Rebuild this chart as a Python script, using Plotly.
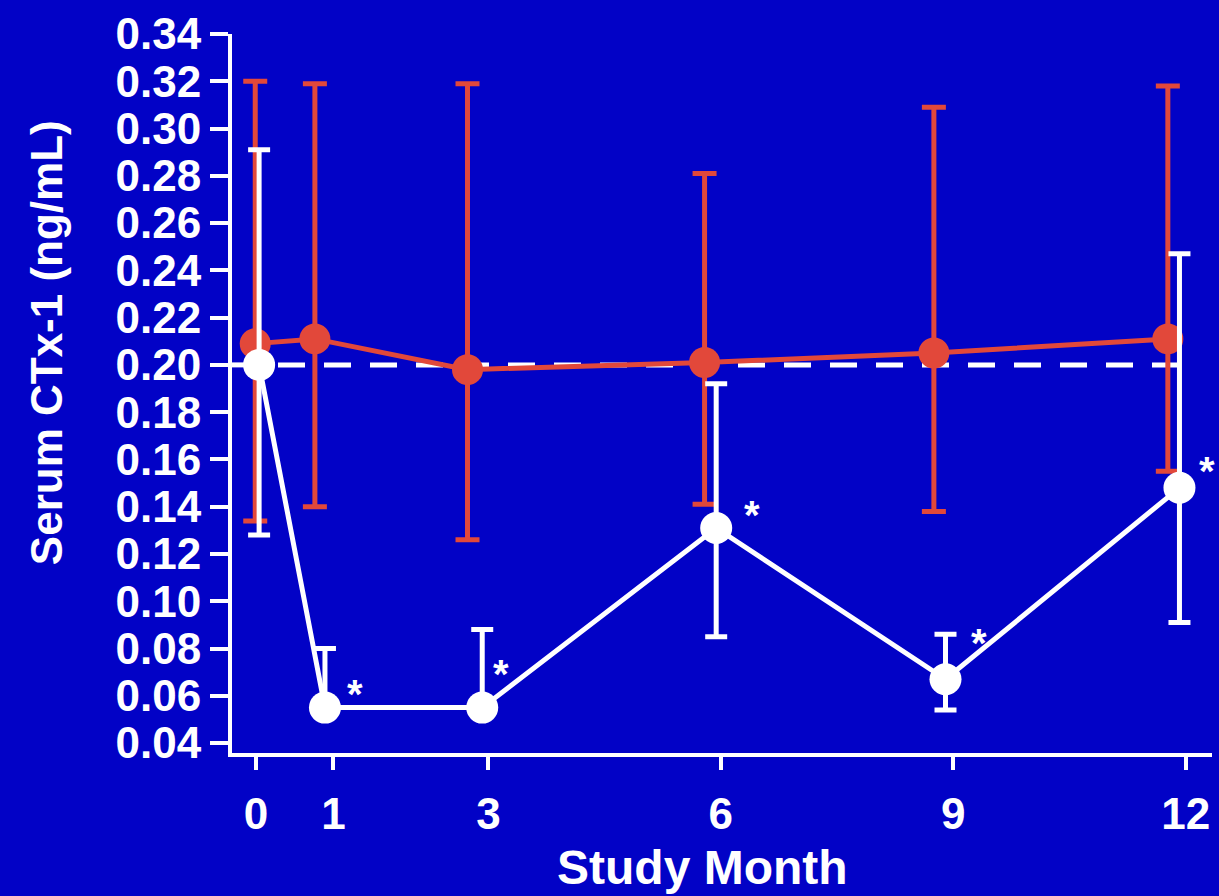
import plotly.graph_objects as go

# ---- data ----
months = [0, 1, 3, 6, 9, 12]
tick_labels = ["0", "1", "3", "6", "9", "12"]

red_mean = [0.209, 0.211, 0.198, 0.201, 0.205, 0.211]
red_upper = [0.320, 0.319, 0.319, 0.281, 0.309, 0.318]
red_lower = [0.134, 0.140, 0.126, 0.141, 0.138, 0.155]

white_mean = [0.200, 0.055, 0.055, 0.131, 0.067, 0.148]
white_upper = [0.291, 0.080, 0.088, 0.192, 0.086, 0.247]
white_lower = [0.128, 0.055, 0.055, 0.085, 0.054, 0.091]

significant = ["", "*", "*", "*", "*", "*"]
reference_level = 0.20

y_ticks = [0.04, 0.06, 0.08, 0.10, 0.12, 0.14, 0.16, 0.18, 0.20,
           0.22, 0.24, 0.26, 0.28, 0.30, 0.32, 0.34]

x_title = "Study Month"
y_title = "Serum CTx-1 (ng/mL)"

# ---- styling / layout constants ----
BG = "#0202C6"
RED = "#E2483A"
WHITE = "#FFFFFF"
FONT = "Liberation Sans, Arial, sans-serif"
red_dodge = [-0.01, -0.24, -0.27, -0.21, -0.25, -0.23]
white_dodge = [0.04, -0.11, -0.08, -0.06, -0.10, -0.08]
x_range = [-0.31, 12.34]
y_range = [0.0358, 0.3400]

red_x = [m + d for m, d in zip(months, red_dodge)]
white_x = [m + d for m, d in zip(months, white_dodge)]

fig = go.Figure()

# dashed reference line (drawn first so it sits under the series)
fig.add_trace(go.Scatter(
    x=[x_range[0], 12.03], y=[reference_level, reference_level],
    mode="lines", line=dict(color=WHITE, width=5, dash="27px,19px"),
    hoverinfo="skip", showlegend=False))

fig.add_trace(go.Scatter(
    x=red_x, y=red_mean, mode="lines+markers",
    line=dict(color=RED, width=5),
    marker=dict(color=RED, size=31),
    error_y=dict(type="data", symmetric=False,
                 array=[u - m for u, m in zip(red_upper, red_mean)],
                 arrayminus=[m - l for m, l in zip(red_mean, red_lower)],
                 color=RED, thickness=5, width=12),
    showlegend=False))

fig.add_trace(go.Scatter(
    x=white_x, y=white_mean, mode="lines+markers",
    line=dict(color=WHITE, width=5),
    marker=dict(color=WHITE, size=32),
    error_y=dict(type="data", symmetric=False,
                 array=[u - m for u, m in zip(white_upper, white_mean)],
                 arrayminus=[m - l for m, l in zip(white_mean, white_lower)],
                 color=WHITE, thickness=5, width=11),
    showlegend=False))

# significance asterisks
star_shift = [(0, 0), (30, 14), (19, 34), (36, 13), (33, 36), (28, 17)]
for x, y, s, (dx, dy) in zip(white_x, white_mean, significant, star_shift):
    if s:
        fig.add_annotation(x=x, y=y, text=s, showarrow=False,
                           xshift=dx, yshift=dy,
                           font=dict(family=FONT, size=40, color=WHITE, weight="bold"))

# axis titles as annotations for exact placement
fig.add_annotation(xref="paper", yref="paper", x=0.4796, y=0, yshift=-114,
                   xanchor="center", yanchor="middle", showarrow=False,
                   text=x_title,
                   font=dict(family=FONT, size=48, color=WHITE, weight="bold"))
fig.add_annotation(xref="paper", yref="paper", x=0, xshift=-186, y=0.570,
                   xanchor="center", yanchor="middle", showarrow=False,
                   textangle=-90, text=y_title,
                   font=dict(family=FONT, size=44, color=WHITE, weight="bold"))

fig.update_layout(
    width=1219, height=896, autosize=False,
    margin=dict(l=232, r=7, t=34, b=143),
    paper_bgcolor=BG, plot_bgcolor=BG,
    font=dict(family=FONT, color=WHITE, weight="bold"),
    showlegend=False,
)

fig.update_xaxes(
    range=x_range, tickmode="array", tickvals=months, ticktext=tick_labels,
    showgrid=False, zeroline=False,
    showline=True, linecolor=WHITE, linewidth=4,
    ticks="outside", ticklen=13, tickwidth=4, tickcolor=WHITE,
    tickfont=dict(family=FONT, size=44, color=WHITE, weight="bold"),
    ticklabelstandoff=6,
)

fig.update_yaxes(
    range=y_range, tickmode="array", tickvals=y_ticks,
    ticktext=[f"{v:.2f}" for v in y_ticks],
    showgrid=False, zeroline=False,
    showline=True, linecolor=WHITE, linewidth=4,
    ticks="outside", ticklen=18, tickwidth=4, tickcolor=WHITE,
    tickfont=dict(family=FONT, size=44, color=WHITE, weight="bold"),
    ticklabelstandoff=0,
)

fig.write_html("out.html")
